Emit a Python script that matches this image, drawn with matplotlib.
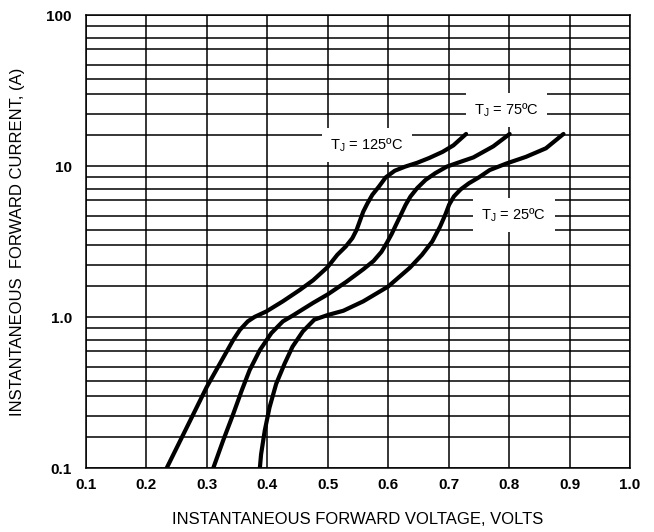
import matplotlib.pyplot as plt
from matplotlib.ticker import FixedLocator, NullFormatter

plt.rcParams['font.family'] = ['Liberation Sans', 'DejaVu Sans']

# forward voltage (V) / forward current (A)
v_125 = [0.234, 0.289, 0.300, 0.311, 0.322, 0.333, 0.344, 0.355, 0.368, 0.379,
         0.399, 0.426, 0.454, 0.476, 0.500, 0.516, 0.530, 0.541, 0.548, 0.554,
         0.559, 0.566, 0.574, 0.585, 0.596, 0.611, 0.628, 0.648, 0.668, 0.690,
         0.708, 0.729]
i_125 = [0.1, 0.279, 0.343, 0.411, 0.492, 0.589, 0.705, 0.822, 0.935, 1.0,
         1.09, 1.27, 1.51, 1.75, 2.14, 2.58, 2.93, 3.33, 3.78, 4.40,
         4.99, 5.67, 6.45, 7.32, 8.4, 9.3, 9.9, 10.5, 11.3, 12.4,
         13.7, 16.3]

v_75 = [0.311, 0.327, 0.344, 0.358, 0.371, 0.388, 0.407, 0.426, 0.442, 0.476,
        0.500, 0.531, 0.559, 0.576, 0.589, 0.598, 0.606, 0.613, 0.621, 0.629,
        0.637, 0.648, 0.662, 0.678, 0.697, 0.715, 0.741, 0.774, 0.801]
i_75 = [0.1, 0.151, 0.228, 0.326, 0.444, 0.604, 0.782, 0.935, 1.02, 1.24,
        1.41, 1.71, 2.07, 2.35, 2.7, 3.1, 3.55, 4.07, 4.74, 5.53,
        6.28, 7.13, 8.09, 8.96, 9.9, 10.5, 11.4, 13.5, 16.3]

v_25 = [0.388, 0.390, 0.396, 0.404, 0.415, 0.429, 0.442, 0.459, 0.478, 0.500,
        0.526, 0.559, 0.600, 0.621, 0.636, 0.656, 0.673, 0.686, 0.695, 0.701,
        0.709, 0.720, 0.734, 0.750, 0.768, 0.796, 0.828, 0.861, 0.890]
i_25 = [0.1, 0.123, 0.176, 0.252, 0.361, 0.492, 0.636, 0.802, 0.96, 1.03,
        1.10, 1.27, 1.59, 1.88, 2.12, 2.58, 3.16, 3.97, 4.8, 5.55,
        6.3, 7.0, 7.7, 8.4, 9.4, 10.4, 11.5, 13.1, 16.3]

x_ticks = [0.1, 0.2, 0.3, 0.4, 0.5, 0.6, 0.7, 0.8, 0.9, 1.0]
x_labels = ['0.1', '0.2', '0.3', '0.4', '0.5', '0.6', '0.7', '0.8', '0.9', '1.0']
y_ticks = [0.1, 1.0, 10, 100]
y_labels = ['0.1', '1.0', '10', '100']
# the printed graph paper's lines inside each decade
grid_mult = [1.6, 2.2, 3.0, 3.75, 4.7, 6.0, 7.05, 8.45]

labels = [
    (r'T$_{\mathregular{J}}$ = 125ºC', 0.565, 13.8),
    (r'T$_{\mathregular{J}}$ = 75ºC', 0.7955, 23.5),
    (r'T$_{\mathregular{J}}$ = 25ºC', 0.808, 4.74),
]

fig = plt.figure(figsize=(6.54, 5.32), dpi=100)
ax = fig.add_axes([0.131, 0.1203, 0.8323, 0.8515])
ax.set_yscale('log')
ax.set_xlim(0.1, 1.0)
ax.set_ylim(0.1, 100)

ax.set_xticks(x_ticks)
ax.set_xticklabels(x_labels, fontweight='bold', fontsize=11)
ax.set_yticks(y_ticks)
ax.set_yticklabels(y_labels, fontweight='bold', fontsize=11)
minor = [d * m for d in [0.1, 1.0, 10] for m in grid_mult]
ax.yaxis.set_minor_locator(FixedLocator(minor))
ax.yaxis.set_minor_formatter(NullFormatter())
ax.tick_params(which='both', length=0)
ax.tick_params(axis='x', pad=7)
ax.tick_params(axis='y', pad=10)

ax.grid(True, which='major', color='black', lw=1.1)
ax.grid(True, which='minor', axis='y', color='black', lw=1.1)
for s in ax.spines.values():
    s.set_color('black')
    s.set_linewidth(1.1)

for v, i in [(v_125, i_125), (v_75, i_75), (v_25, i_25)]:
    ax.plot(v, i, color='black', lw=3.0, solid_joinstyle='round',
            solid_capstyle='round', zorder=3)

for txt, x, y in labels:
    ax.text(x, y, txt, ha='center', va='center', fontsize=10.5, zorder=4,
            bbox=dict(facecolor='white', edgecolor='none', pad=6))

ax.set_xlabel('INSTANTANEOUS FORWARD VOLTAGE, VOLTS', fontsize=12)
ax.set_ylabel('INSTANTANEOUS  FORWARD CURRENT, (A)', fontsize=12)
ax.xaxis.set_label_coords(0.5, -0.097)
ax.yaxis.set_label_coords(-0.112, 0.5)

fig.savefig('out.png', dpi=100)
